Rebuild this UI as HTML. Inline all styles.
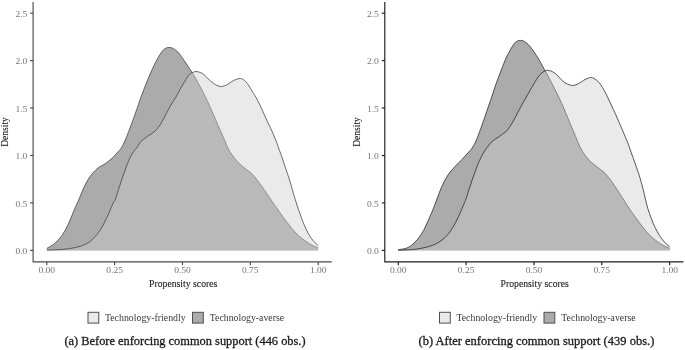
<!DOCTYPE html>
<html><head><meta charset="utf-8"><title>Propensity score densities</title>
<style>
html,body{margin:0;padding:0;background:#fff;}
body{width:685px;height:350px;overflow:hidden;font-family:"Liberation Serif",serif;}
svg{display:block}
text{font-family:"Liberation Serif",serif;}
.tk{font-size:9.0px;fill:#767676;}
.at{font-size:9.4px;fill:#262626;stroke:#262626;stroke-width:0.12;}
.lg{font-size:9.6px;fill:#383838;}
.cp{font-size:12.4px;fill:#1c1c1c;stroke:#1c1c1c;stroke-width:0.3;}
</style></head><body>
<svg width="685" height="350" viewBox="0 0 685 350">
<rect width="685" height="350" fill="#fff"/>
<path d="M46.8,248.4C48.1,247.6 52.1,245.7 54.6,243.5C57.1,241.3 59.7,238.5 61.9,235.5C64.1,232.5 66.0,228.7 67.7,225.3C69.4,221.9 70.8,218.3 72.1,215.1C73.4,211.9 74.6,209.0 75.8,206.3C77.0,203.6 77.7,202.2 79.1,199.0C80.5,195.8 82.3,190.7 84.1,187.0C85.9,183.3 87.6,179.9 89.9,176.7C92.2,173.5 95.4,170.2 98.0,168.0C100.6,165.8 103.0,165.2 105.3,163.6C107.6,162.0 109.9,160.2 111.8,158.5C113.7,156.8 115.3,154.8 116.9,153.1C118.5,151.3 120.0,150.1 121.3,148.0C122.6,145.9 123.6,143.8 124.9,140.8C126.2,137.8 127.9,133.6 129.3,129.8C130.8,126.0 132.3,121.9 133.6,118.2C134.9,114.5 136.1,111.4 137.3,107.9C138.5,104.4 139.5,101.1 141.0,97.0C142.5,92.9 144.6,87.6 146.3,83.2C148.1,78.8 149.7,74.8 151.5,70.8C153.3,66.8 155.5,62.4 157.3,59.1C159.1,55.8 161.0,52.9 162.4,51.1C163.8,49.3 164.9,48.7 166.0,48.1C167.1,47.5 168.0,47.4 169.2,47.5C170.4,47.6 171.8,47.6 173.3,48.5C174.8,49.4 176.6,50.6 178.4,52.6C180.2,54.6 182.2,57.8 184.2,60.6C186.1,63.4 188.1,66.4 190.1,69.4C192.1,72.4 194.1,75.7 195.9,78.8C197.7,81.9 199.4,85.3 201.0,88.3C202.6,91.3 204.0,93.8 205.5,97.0C207.0,100.2 208.6,103.5 210.2,107.2C211.8,110.9 213.6,115.0 215.3,118.9C217.0,122.8 218.8,126.9 220.4,130.6C222.0,134.2 223.6,137.9 224.8,140.8C226.0,143.7 226.6,145.7 227.8,148.0C229.0,150.3 230.2,152.3 231.9,154.6C233.6,156.9 235.5,159.6 237.7,161.9C239.9,164.2 242.7,166.5 245.0,168.4C247.3,170.3 249.7,171.7 251.6,173.5C253.5,175.3 254.9,177.1 256.7,179.4C258.5,181.7 260.8,184.9 262.6,187.4C264.4,189.9 266.4,192.8 267.7,194.7C269.0,196.6 269.0,196.8 270.5,199.0C272.0,201.2 274.3,204.6 276.5,207.8C278.7,211.0 281.4,214.7 283.8,218.0C286.2,221.3 288.7,224.6 291.1,227.5C293.5,230.4 296.0,233.2 298.4,235.5C300.8,237.8 303.3,239.6 305.7,241.3C308.1,243.0 310.9,244.6 313.0,245.7C315.1,246.8 317.3,247.5 318.2,247.9L318.2,250.4L46.8,250.4Z" fill="#ababab"/><path d="M46.8,248.4C48.1,247.6 52.1,245.7 54.6,243.5C57.1,241.3 59.7,238.5 61.9,235.5C64.1,232.5 66.0,228.7 67.7,225.3C69.4,221.9 70.8,218.3 72.1,215.1C73.4,211.9 74.6,209.0 75.8,206.3C77.0,203.6 77.7,202.2 79.1,199.0C80.5,195.8 82.3,190.7 84.1,187.0C85.9,183.3 87.6,179.9 89.9,176.7C92.2,173.5 95.4,170.2 98.0,168.0C100.6,165.8 103.0,165.2 105.3,163.6C107.6,162.0 109.9,160.2 111.8,158.5C113.7,156.8 115.3,154.8 116.9,153.1C118.5,151.3 120.0,150.1 121.3,148.0C122.6,145.9 123.6,143.8 124.9,140.8C126.2,137.8 127.9,133.6 129.3,129.8C130.8,126.0 132.3,121.9 133.6,118.2C134.9,114.5 136.1,111.4 137.3,107.9C138.5,104.4 139.5,101.1 141.0,97.0C142.5,92.9 144.6,87.6 146.3,83.2C148.1,78.8 149.7,74.8 151.5,70.8C153.3,66.8 155.5,62.4 157.3,59.1C159.1,55.8 161.0,52.9 162.4,51.1C163.8,49.3 164.9,48.7 166.0,48.1C167.1,47.5 168.0,47.4 169.2,47.5C170.4,47.6 171.8,47.6 173.3,48.5C174.8,49.4 176.6,50.6 178.4,52.6C180.2,54.6 182.2,57.8 184.2,60.6C186.1,63.4 188.1,66.4 190.1,69.4C192.1,72.4 194.1,75.7 195.9,78.8C197.7,81.9 199.4,85.3 201.0,88.3C202.6,91.3 204.0,93.8 205.5,97.0C207.0,100.2 208.6,103.5 210.2,107.2C211.8,110.9 213.6,115.0 215.3,118.9C217.0,122.8 218.8,126.9 220.4,130.6C222.0,134.2 223.6,137.9 224.8,140.8C226.0,143.7 226.6,145.7 227.8,148.0C229.0,150.3 230.2,152.3 231.9,154.6C233.6,156.9 235.5,159.6 237.7,161.9C239.9,164.2 242.7,166.5 245.0,168.4C247.3,170.3 249.7,171.7 251.6,173.5C253.5,175.3 254.9,177.1 256.7,179.4C258.5,181.7 260.8,184.9 262.6,187.4C264.4,189.9 266.4,192.8 267.7,194.7C269.0,196.6 269.0,196.8 270.5,199.0C272.0,201.2 274.3,204.6 276.5,207.8C278.7,211.0 281.4,214.7 283.8,218.0C286.2,221.3 288.7,224.6 291.1,227.5C293.5,230.4 296.0,233.2 298.4,235.5C300.8,237.8 303.3,239.6 305.7,241.3C308.1,243.0 310.9,244.6 313.0,245.7C315.1,246.8 317.3,247.5 318.2,247.9" fill="none" stroke="#3c3c3c" stroke-width="0.75"/><path d="M46.8,250.1C49.3,250.0 57.4,249.8 61.9,249.4C66.4,249.0 69.9,248.6 73.6,247.9C77.2,247.2 80.9,246.2 83.8,245.0C86.7,243.8 88.7,242.7 91.1,240.6C93.5,238.5 96.2,235.5 98.4,232.6C100.6,229.7 102.4,226.5 104.2,223.1C106.0,219.7 107.8,215.4 109.3,212.1C110.8,208.8 112.0,205.6 113.0,203.4C114.0,201.2 114.5,201.7 115.5,199.0C116.5,196.3 118.0,191.2 119.2,187.4C120.4,183.7 121.6,180.0 122.8,176.5C124.0,173.0 125.2,169.6 126.5,166.2C127.8,162.8 129.4,158.8 130.9,156.0C132.4,153.2 134.3,150.8 135.3,149.5C136.3,148.2 135.8,149.3 136.7,148.0C137.6,146.7 139.1,143.4 140.9,141.5C142.7,139.6 145.2,138.1 147.5,136.4C149.8,134.7 152.6,133.4 154.8,131.3C157.0,129.2 158.9,126.8 160.7,124.0C162.5,121.2 164.1,117.7 165.8,114.5C167.5,111.3 169.2,107.9 170.9,105.0C172.6,102.1 174.4,99.8 176.0,97.0C177.6,94.2 179.2,91.0 180.7,88.3C182.2,85.6 183.7,83.2 185.0,81.0C186.3,78.8 187.4,76.6 188.6,75.2C189.8,73.8 191.1,73.2 192.3,72.6C193.5,72.0 194.7,71.5 195.9,71.5C197.2,71.5 198.4,71.8 199.8,72.3C201.2,72.8 202.6,73.5 204.2,74.8C205.8,76.1 207.6,78.4 209.3,80.0C211.1,81.6 213.1,83.2 214.7,84.2C216.3,85.2 217.8,85.7 219.0,86.1C220.2,86.5 220.7,86.6 221.9,86.4C223.1,86.2 224.7,85.9 226.3,85.1C227.9,84.3 229.8,82.7 231.4,81.8C233.0,80.9 234.4,80.0 235.8,79.5C237.2,79.0 238.4,78.5 239.7,78.5C241.0,78.5 242.4,78.8 243.8,79.8C245.2,80.8 246.7,82.7 248.2,84.7C249.7,86.7 251.3,90.0 252.6,92.0C253.9,94.0 254.6,94.8 255.8,97.0C257.0,99.2 258.5,102.1 259.9,105.0C261.3,107.9 262.8,111.3 264.2,114.5C265.6,117.7 267.1,120.8 268.6,124.0C270.1,127.2 271.7,130.4 273.0,133.5C274.3,136.6 275.7,139.9 276.6,142.3C277.5,144.7 277.7,145.3 278.6,148.0C279.6,150.7 281.1,154.7 282.3,158.2C283.5,161.7 284.7,165.5 285.9,169.2C287.1,172.8 288.5,176.6 289.6,180.1C290.7,183.6 291.6,187.2 292.5,190.3C293.4,193.5 294.1,195.8 295.1,199.0C296.1,202.2 297.2,205.8 298.4,209.2C299.5,212.6 300.7,216.0 302.0,219.4C303.3,222.8 304.9,226.6 306.4,229.7C307.9,232.8 309.3,235.5 310.8,237.7C312.3,239.9 314.0,241.5 315.2,242.8C316.4,244.1 317.7,245.0 318.2,245.4L318.2,250.4L46.8,250.4Z" fill="#cccccc" fill-opacity="0.42"/><path d="M46.8,250.1C49.3,250.0 57.4,249.8 61.9,249.4C66.4,249.0 69.9,248.6 73.6,247.9C77.2,247.2 80.9,246.2 83.8,245.0C86.7,243.8 88.7,242.7 91.1,240.6C93.5,238.5 96.2,235.5 98.4,232.6C100.6,229.7 102.4,226.5 104.2,223.1C106.0,219.7 107.8,215.4 109.3,212.1C110.8,208.8 112.0,205.6 113.0,203.4C114.0,201.2 114.5,201.7 115.5,199.0C116.5,196.3 118.0,191.2 119.2,187.4C120.4,183.7 121.6,180.0 122.8,176.5C124.0,173.0 125.2,169.6 126.5,166.2C127.8,162.8 129.4,158.8 130.9,156.0C132.4,153.2 134.3,150.8 135.3,149.5C136.3,148.2 135.8,149.3 136.7,148.0C137.6,146.7 139.1,143.4 140.9,141.5C142.7,139.6 145.2,138.1 147.5,136.4C149.8,134.7 152.6,133.4 154.8,131.3C157.0,129.2 158.9,126.8 160.7,124.0C162.5,121.2 164.1,117.7 165.8,114.5C167.5,111.3 169.2,107.9 170.9,105.0C172.6,102.1 174.4,99.8 176.0,97.0C177.6,94.2 179.2,91.0 180.7,88.3C182.2,85.6 183.7,83.2 185.0,81.0C186.3,78.8 187.4,76.6 188.6,75.2C189.8,73.8 191.1,73.2 192.3,72.6C193.5,72.0 194.7,71.5 195.9,71.5C197.2,71.5 198.4,71.8 199.8,72.3C201.2,72.8 202.6,73.5 204.2,74.8C205.8,76.1 207.6,78.4 209.3,80.0C211.1,81.6 213.1,83.2 214.7,84.2C216.3,85.2 217.8,85.7 219.0,86.1C220.2,86.5 220.7,86.6 221.9,86.4C223.1,86.2 224.7,85.9 226.3,85.1C227.9,84.3 229.8,82.7 231.4,81.8C233.0,80.9 234.4,80.0 235.8,79.5C237.2,79.0 238.4,78.5 239.7,78.5C241.0,78.5 242.4,78.8 243.8,79.8C245.2,80.8 246.7,82.7 248.2,84.7C249.7,86.7 251.3,90.0 252.6,92.0C253.9,94.0 254.6,94.8 255.8,97.0C257.0,99.2 258.5,102.1 259.9,105.0C261.3,107.9 262.8,111.3 264.2,114.5C265.6,117.7 267.1,120.8 268.6,124.0C270.1,127.2 271.7,130.4 273.0,133.5C274.3,136.6 275.7,139.9 276.6,142.3C277.5,144.7 277.7,145.3 278.6,148.0C279.6,150.7 281.1,154.7 282.3,158.2C283.5,161.7 284.7,165.5 285.9,169.2C287.1,172.8 288.5,176.6 289.6,180.1C290.7,183.6 291.6,187.2 292.5,190.3C293.4,193.5 294.1,195.8 295.1,199.0C296.1,202.2 297.2,205.8 298.4,209.2C299.5,212.6 300.7,216.0 302.0,219.4C303.3,222.8 304.9,226.6 306.4,229.7C307.9,232.8 309.3,235.5 310.8,237.7C312.3,239.9 314.0,241.5 315.2,242.8C316.4,244.1 317.7,245.0 318.2,245.4" fill="none" stroke="#3c3c3c" stroke-width="0.75"/><path d="M33.1,2V261.9H331.7" fill="none" stroke="#4a4a4a" stroke-width="1.15"/><path d="M30.1,13.2H33.1" stroke="#4a4a4a" stroke-width="1.15"/><text x="27.3" y="17.0" text-anchor="end" textLength="11.9" lengthAdjust="spacingAndGlyphs" class="tk">2.5</text><path d="M30.1,60.6H33.1" stroke="#4a4a4a" stroke-width="1.15"/><text x="27.3" y="63.8" text-anchor="end" textLength="11.9" lengthAdjust="spacingAndGlyphs" class="tk">2.0</text><path d="M30.1,108.0H33.1" stroke="#4a4a4a" stroke-width="1.15"/><text x="27.3" y="111.8" text-anchor="end" textLength="11.9" lengthAdjust="spacingAndGlyphs" class="tk">1.5</text><path d="M30.1,155.5H33.1" stroke="#4a4a4a" stroke-width="1.15"/><text x="27.3" y="158.7" text-anchor="end" textLength="11.9" lengthAdjust="spacingAndGlyphs" class="tk">1.0</text><path d="M30.1,202.9H33.1" stroke="#4a4a4a" stroke-width="1.15"/><text x="27.3" y="206.7" text-anchor="end" textLength="11.9" lengthAdjust="spacingAndGlyphs" class="tk">0.5</text><path d="M30.1,250.4H33.1" stroke="#4a4a4a" stroke-width="1.15"/><text x="27.3" y="253.6" text-anchor="end" textLength="11.9" lengthAdjust="spacingAndGlyphs" class="tk">0.0</text><path d="M46.8,261.9V265.2" stroke="#4a4a4a" stroke-width="1.15"/><text x="46.8" y="272.9" text-anchor="middle" textLength="16.6" lengthAdjust="spacingAndGlyphs" class="tk">0.00</text><path d="M114.6,261.9V265.2" stroke="#4a4a4a" stroke-width="1.15"/><text x="114.6" y="272.9" text-anchor="middle" textLength="16.6" lengthAdjust="spacingAndGlyphs" class="tk">0.25</text><path d="M182.5,261.9V265.2" stroke="#4a4a4a" stroke-width="1.15"/><text x="182.5" y="272.9" text-anchor="middle" textLength="16.6" lengthAdjust="spacingAndGlyphs" class="tk">0.50</text><path d="M250.3,261.9V265.2" stroke="#4a4a4a" stroke-width="1.15"/><text x="250.3" y="272.9" text-anchor="middle" textLength="16.6" lengthAdjust="spacingAndGlyphs" class="tk">0.75</text><path d="M318.2,261.9V265.2" stroke="#4a4a4a" stroke-width="1.15"/><text x="318.2" y="272.9" text-anchor="middle" textLength="16.6" lengthAdjust="spacingAndGlyphs" class="tk">1.00</text><text x="183.2" y="286.5" text-anchor="middle" textLength="68.3" lengthAdjust="spacingAndGlyphs" class="at">Propensity scores</text><text transform="translate(8.2,132) rotate(-90)" text-anchor="middle" textLength="29.6" lengthAdjust="spacingAndGlyphs" class="at">Density</text><rect x="88.0" y="312.3" width="10.8" height="10.8" fill="#e9e9e9" stroke="#4f4f4f" stroke-width="1.0"/><text x="104.9" y="320.6" textLength="80.8" lengthAdjust="spacingAndGlyphs" class="lg">Technology-friendly</text><rect x="192.5" y="312.3" width="10.8" height="10.8" fill="#ababab" stroke="#4f4f4f" stroke-width="1.0"/><text x="209.8" y="320.6" textLength="74.3" lengthAdjust="spacingAndGlyphs" class="lg">Technology-averse</text><g transform="translate(351.5,0)"><path d="M46.7,249.7C48.0,249.5 52.3,249.1 54.6,248.3C56.9,247.5 58.5,246.5 60.4,245.0C62.3,243.5 64.2,241.5 66.2,239.1C68.1,236.7 70.3,233.7 72.1,230.4C73.9,227.1 75.6,222.9 77.2,219.4C78.8,215.9 80.2,212.6 81.6,209.2C83.0,205.8 84.1,202.6 85.5,199.0C86.9,195.4 88.1,191.4 89.9,187.4C91.7,183.4 94.2,178.5 96.5,175.0C98.8,171.5 101.4,168.9 103.8,166.2C106.2,163.5 109.0,161.1 111.1,158.9C113.2,156.7 114.6,154.9 116.2,153.1C117.8,151.3 119.2,150.2 120.7,148.0C122.1,145.8 123.5,143.4 124.9,140.1C126.3,136.8 127.8,132.4 129.3,128.4C130.8,124.4 132.3,119.9 133.7,116.0C135.0,112.1 136.3,108.2 137.4,105.0C138.5,101.8 139.0,100.6 140.2,97.0C141.4,93.4 143.1,88.0 144.7,83.5C146.3,79.0 148.1,74.3 149.8,70.0C151.5,65.7 153.1,61.0 154.8,57.4C156.5,53.8 158.4,50.6 159.9,48.1C161.4,45.6 162.5,43.5 164.0,42.2C165.5,40.9 167.4,40.4 169.1,40.4C170.8,40.4 172.3,40.9 174.1,42.2C175.9,43.5 177.7,45.4 179.8,48.1C181.9,50.8 184.5,54.7 186.6,58.2C188.8,61.7 190.7,65.5 192.7,69.2C194.8,72.9 197.2,77.3 198.9,80.5C200.6,83.7 201.6,85.8 203.0,88.5C204.4,91.2 205.8,94.0 207.2,97.0C208.6,100.0 210.0,102.8 211.6,106.5C213.2,110.2 215.0,114.8 216.7,118.9C218.4,123.0 220.3,127.5 221.9,131.3C223.5,135.1 225.0,138.7 226.2,141.5C227.4,144.3 227.9,145.9 229.0,148.0C230.1,150.1 231.0,151.6 232.6,153.8C234.2,156.0 236.2,158.9 238.4,161.1C240.6,163.3 243.4,165.2 245.7,167.0C248.0,168.8 250.2,170.2 252.3,172.1C254.4,174.0 256.3,176.4 258.1,178.7C259.9,181.0 261.5,183.4 263.2,186.0C264.9,188.6 267.0,191.8 268.4,194.0C269.8,196.2 270.2,196.7 271.7,199.0C273.2,201.3 275.3,204.8 277.3,207.8C279.3,210.8 281.7,214.2 283.9,217.2C286.1,220.2 288.2,223.2 290.4,226.0C292.6,228.8 294.8,231.7 297.0,234.0C299.2,236.3 301.3,238.1 303.6,239.9C305.9,241.7 308.5,243.6 310.9,245.0C313.3,246.4 317.0,247.8 318.2,248.3L318.2,250.4L46.7,250.4Z" fill="#ababab"/><path d="M46.7,249.7C48.0,249.5 52.3,249.1 54.6,248.3C56.9,247.5 58.5,246.5 60.4,245.0C62.3,243.5 64.2,241.5 66.2,239.1C68.1,236.7 70.3,233.7 72.1,230.4C73.9,227.1 75.6,222.9 77.2,219.4C78.8,215.9 80.2,212.6 81.6,209.2C83.0,205.8 84.1,202.6 85.5,199.0C86.9,195.4 88.1,191.4 89.9,187.4C91.7,183.4 94.2,178.5 96.5,175.0C98.8,171.5 101.4,168.9 103.8,166.2C106.2,163.5 109.0,161.1 111.1,158.9C113.2,156.7 114.6,154.9 116.2,153.1C117.8,151.3 119.2,150.2 120.7,148.0C122.1,145.8 123.5,143.4 124.9,140.1C126.3,136.8 127.8,132.4 129.3,128.4C130.8,124.4 132.3,119.9 133.7,116.0C135.0,112.1 136.3,108.2 137.4,105.0C138.5,101.8 139.0,100.6 140.2,97.0C141.4,93.4 143.1,88.0 144.7,83.5C146.3,79.0 148.1,74.3 149.8,70.0C151.5,65.7 153.1,61.0 154.8,57.4C156.5,53.8 158.4,50.6 159.9,48.1C161.4,45.6 162.5,43.5 164.0,42.2C165.5,40.9 167.4,40.4 169.1,40.4C170.8,40.4 172.3,40.9 174.1,42.2C175.9,43.5 177.7,45.4 179.8,48.1C181.9,50.8 184.5,54.7 186.6,58.2C188.8,61.7 190.7,65.5 192.7,69.2C194.8,72.9 197.2,77.3 198.9,80.5C200.6,83.7 201.6,85.8 203.0,88.5C204.4,91.2 205.8,94.0 207.2,97.0C208.6,100.0 210.0,102.8 211.6,106.5C213.2,110.2 215.0,114.8 216.7,118.9C218.4,123.0 220.3,127.5 221.9,131.3C223.5,135.1 225.0,138.7 226.2,141.5C227.4,144.3 227.9,145.9 229.0,148.0C230.1,150.1 231.0,151.6 232.6,153.8C234.2,156.0 236.2,158.9 238.4,161.1C240.6,163.3 243.4,165.2 245.7,167.0C248.0,168.8 250.2,170.2 252.3,172.1C254.4,174.0 256.3,176.4 258.1,178.7C259.9,181.0 261.5,183.4 263.2,186.0C264.9,188.6 267.0,191.8 268.4,194.0C269.8,196.2 270.2,196.7 271.7,199.0C273.2,201.3 275.3,204.8 277.3,207.8C279.3,210.8 281.7,214.2 283.9,217.2C286.1,220.2 288.2,223.2 290.4,226.0C292.6,228.8 294.8,231.7 297.0,234.0C299.2,236.3 301.3,238.1 303.6,239.9C305.9,241.7 308.5,243.6 310.9,245.0C313.3,246.4 317.0,247.8 318.2,248.3" fill="none" stroke="#222222" stroke-width="0.75"/><path d="M46.7,250.2C49.2,250.1 57.2,250.0 61.9,249.5C66.6,249.0 71.1,248.2 75.0,247.2C78.9,246.2 82.3,245.0 85.2,243.5C88.1,242.0 90.3,240.3 92.5,238.4C94.7,236.5 96.4,234.5 98.4,231.8C100.3,229.1 102.4,225.8 104.2,222.4C106.0,219.0 107.8,214.7 109.3,211.4C110.8,208.1 112.1,204.7 113.0,202.6C113.9,200.5 113.6,201.7 114.5,199.0C115.4,196.3 117.0,190.8 118.4,186.7C119.8,182.6 121.2,178.3 122.7,174.3C124.1,170.3 125.6,166.0 127.1,162.6C128.6,159.2 130.2,156.2 131.5,153.8C132.8,151.4 133.6,150.1 135.2,148.0C136.8,145.9 138.7,143.1 140.8,141.2C143.0,139.2 145.7,138.1 148.1,136.3C150.5,134.5 153.2,133.0 155.4,130.6C157.6,128.2 159.5,124.8 161.3,121.8C163.1,118.8 164.7,115.5 166.4,112.3C168.1,109.1 170.1,105.3 171.5,102.8C172.9,100.2 173.4,99.5 174.8,97.0C176.2,94.5 178.4,90.7 180.1,87.7C181.8,84.8 183.6,81.6 185.1,79.3C186.6,77.0 187.9,75.2 189.3,73.8C190.7,72.4 192.2,71.5 193.5,70.9C194.8,70.3 195.7,70.3 196.9,70.4C198.1,70.5 199.4,70.9 200.8,71.6C202.1,72.3 203.7,73.4 205.0,74.5C206.3,75.6 207.2,77.0 208.5,78.3C209.8,79.6 211.5,81.5 213.1,82.6C214.7,83.7 216.8,84.4 218.3,84.9C219.8,85.4 220.4,85.6 221.9,85.4C223.3,85.2 225.3,84.6 227.0,83.7C228.7,82.8 230.5,81.2 232.1,80.3C233.7,79.4 235.2,78.7 236.5,78.2C237.8,77.8 238.8,77.3 240.1,77.6C241.4,77.8 243.0,78.6 244.5,79.7C246.0,80.8 247.4,82.3 248.9,84.2C250.3,86.1 252.0,89.2 253.2,91.3C254.4,93.4 254.9,94.7 256.0,97.0C257.1,99.3 258.4,102.1 259.8,105.0C261.2,107.9 262.7,111.2 264.2,114.5C265.7,117.8 267.1,121.3 268.6,124.7C270.1,128.1 271.7,131.8 273.0,135.0C274.3,138.2 275.8,141.5 276.6,143.7C277.5,145.9 277.3,145.7 278.1,148.0C278.9,150.3 280.3,154.2 281.5,157.5C282.7,160.8 283.9,164.3 285.1,167.7C286.3,171.1 287.4,174.2 288.5,177.9C289.6,181.6 290.8,186.1 291.7,189.6C292.6,193.1 293.1,195.8 293.9,199.0C294.7,202.2 295.3,205.2 296.3,208.5C297.3,211.8 298.7,215.5 299.9,218.7C301.1,221.9 302.2,224.7 303.6,227.5C305.0,230.3 306.6,233.2 308.0,235.5C309.4,237.8 311.0,239.7 312.3,241.3C313.6,242.9 315.0,244.2 316.0,245.0C317.0,245.8 317.8,246.2 318.2,246.4L318.2,250.4L46.7,250.4Z" fill="#cccccc" fill-opacity="0.42"/><path d="M46.7,250.2C49.2,250.1 57.2,250.0 61.9,249.5C66.6,249.0 71.1,248.2 75.0,247.2C78.9,246.2 82.3,245.0 85.2,243.5C88.1,242.0 90.3,240.3 92.5,238.4C94.7,236.5 96.4,234.5 98.4,231.8C100.3,229.1 102.4,225.8 104.2,222.4C106.0,219.0 107.8,214.7 109.3,211.4C110.8,208.1 112.1,204.7 113.0,202.6C113.9,200.5 113.6,201.7 114.5,199.0C115.4,196.3 117.0,190.8 118.4,186.7C119.8,182.6 121.2,178.3 122.7,174.3C124.1,170.3 125.6,166.0 127.1,162.6C128.6,159.2 130.2,156.2 131.5,153.8C132.8,151.4 133.6,150.1 135.2,148.0C136.8,145.9 138.7,143.1 140.8,141.2C143.0,139.2 145.7,138.1 148.1,136.3C150.5,134.5 153.2,133.0 155.4,130.6C157.6,128.2 159.5,124.8 161.3,121.8C163.1,118.8 164.7,115.5 166.4,112.3C168.1,109.1 170.1,105.3 171.5,102.8C172.9,100.2 173.4,99.5 174.8,97.0C176.2,94.5 178.4,90.7 180.1,87.7C181.8,84.8 183.6,81.6 185.1,79.3C186.6,77.0 187.9,75.2 189.3,73.8C190.7,72.4 192.2,71.5 193.5,70.9C194.8,70.3 195.7,70.3 196.9,70.4C198.1,70.5 199.4,70.9 200.8,71.6C202.1,72.3 203.7,73.4 205.0,74.5C206.3,75.6 207.2,77.0 208.5,78.3C209.8,79.6 211.5,81.5 213.1,82.6C214.7,83.7 216.8,84.4 218.3,84.9C219.8,85.4 220.4,85.6 221.9,85.4C223.3,85.2 225.3,84.6 227.0,83.7C228.7,82.8 230.5,81.2 232.1,80.3C233.7,79.4 235.2,78.7 236.5,78.2C237.8,77.8 238.8,77.3 240.1,77.6C241.4,77.8 243.0,78.6 244.5,79.7C246.0,80.8 247.4,82.3 248.9,84.2C250.3,86.1 252.0,89.2 253.2,91.3C254.4,93.4 254.9,94.7 256.0,97.0C257.1,99.3 258.4,102.1 259.8,105.0C261.2,107.9 262.7,111.2 264.2,114.5C265.7,117.8 267.1,121.3 268.6,124.7C270.1,128.1 271.7,131.8 273.0,135.0C274.3,138.2 275.8,141.5 276.6,143.7C277.5,145.9 277.3,145.7 278.1,148.0C278.9,150.3 280.3,154.2 281.5,157.5C282.7,160.8 283.9,164.3 285.1,167.7C286.3,171.1 287.4,174.2 288.5,177.9C289.6,181.6 290.8,186.1 291.7,189.6C292.6,193.1 293.1,195.8 293.9,199.0C294.7,202.2 295.3,205.2 296.3,208.5C297.3,211.8 298.7,215.5 299.9,218.7C301.1,221.9 302.2,224.7 303.6,227.5C305.0,230.3 306.6,233.2 308.0,235.5C309.4,237.8 311.0,239.7 312.3,241.3C313.6,242.9 315.0,244.2 316.0,245.0C317.0,245.8 317.8,246.2 318.2,246.4" fill="none" stroke="#222222" stroke-width="0.75"/><path d="M33.3,2V261.9H331.9" fill="none" stroke="#1e1e1e" stroke-width="1.15"/><path d="M30.3,13.2H33.3" stroke="#1e1e1e" stroke-width="1.15"/><text x="27.3" y="17.0" text-anchor="end" textLength="11.9" lengthAdjust="spacingAndGlyphs" class="tk">2.5</text><path d="M30.3,60.6H33.3" stroke="#1e1e1e" stroke-width="1.15"/><text x="27.3" y="63.8" text-anchor="end" textLength="11.9" lengthAdjust="spacingAndGlyphs" class="tk">2.0</text><path d="M30.3,108.0H33.3" stroke="#1e1e1e" stroke-width="1.15"/><text x="27.3" y="111.8" text-anchor="end" textLength="11.9" lengthAdjust="spacingAndGlyphs" class="tk">1.5</text><path d="M30.3,155.5H33.3" stroke="#1e1e1e" stroke-width="1.15"/><text x="27.3" y="158.7" text-anchor="end" textLength="11.9" lengthAdjust="spacingAndGlyphs" class="tk">1.0</text><path d="M30.3,202.9H33.3" stroke="#1e1e1e" stroke-width="1.15"/><text x="27.3" y="206.7" text-anchor="end" textLength="11.9" lengthAdjust="spacingAndGlyphs" class="tk">0.5</text><path d="M30.3,250.4H33.3" stroke="#1e1e1e" stroke-width="1.15"/><text x="27.3" y="253.6" text-anchor="end" textLength="11.9" lengthAdjust="spacingAndGlyphs" class="tk">0.0</text><path d="M46.8,261.9V265.2" stroke="#1e1e1e" stroke-width="1.15"/><text x="46.8" y="272.9" text-anchor="middle" textLength="16.6" lengthAdjust="spacingAndGlyphs" class="tk">0.00</text><path d="M114.6,261.9V265.2" stroke="#1e1e1e" stroke-width="1.15"/><text x="114.6" y="272.9" text-anchor="middle" textLength="16.6" lengthAdjust="spacingAndGlyphs" class="tk">0.25</text><path d="M182.5,261.9V265.2" stroke="#1e1e1e" stroke-width="1.15"/><text x="182.5" y="272.9" text-anchor="middle" textLength="16.6" lengthAdjust="spacingAndGlyphs" class="tk">0.50</text><path d="M250.3,261.9V265.2" stroke="#1e1e1e" stroke-width="1.15"/><text x="250.3" y="272.9" text-anchor="middle" textLength="16.6" lengthAdjust="spacingAndGlyphs" class="tk">0.75</text><path d="M318.2,261.9V265.2" stroke="#1e1e1e" stroke-width="1.15"/><text x="318.2" y="272.9" text-anchor="middle" textLength="16.6" lengthAdjust="spacingAndGlyphs" class="tk">1.00</text><text x="183.2" y="286.5" text-anchor="middle" textLength="68.3" lengthAdjust="spacingAndGlyphs" class="at">Propensity scores</text><text transform="translate(8.2,132) rotate(-90)" text-anchor="middle" textLength="29.6" lengthAdjust="spacingAndGlyphs" class="at">Density</text><rect x="88.0" y="312.3" width="10.8" height="10.8" fill="#e9e9e9" stroke="#4f4f4f" stroke-width="1.0"/><text x="104.9" y="320.6" textLength="80.8" lengthAdjust="spacingAndGlyphs" class="lg">Technology-friendly</text><rect x="192.5" y="312.3" width="10.8" height="10.8" fill="#ababab" stroke="#4f4f4f" stroke-width="1.0"/><text x="209.8" y="320.6" textLength="74.3" lengthAdjust="spacingAndGlyphs" class="lg">Technology-averse</text></g><text x="185.0" y="345.2" text-anchor="middle" textLength="241.2" lengthAdjust="spacingAndGlyphs" class="cp">(a) Before enforcing common support (446 obs.)</text><text x="536.4" y="345.2" text-anchor="middle" textLength="235.8" lengthAdjust="spacingAndGlyphs" class="cp">(b) After enforcing common support (439 obs.)</text>
</svg>
</body></html>
